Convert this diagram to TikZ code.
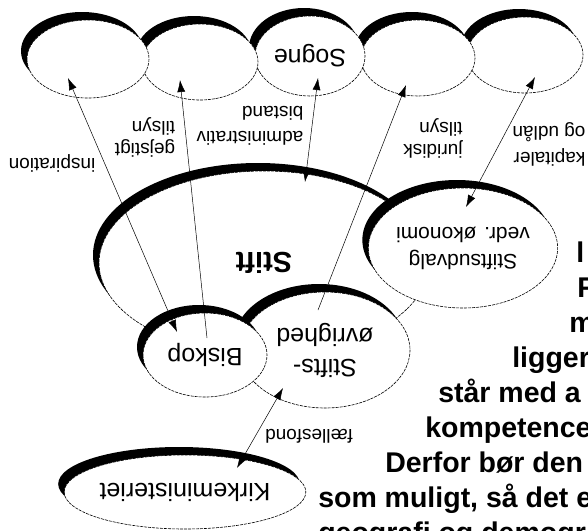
\documentclass[tikz,border=0pt]{standalone}
\usepackage{fontspec}
\setmainfont{Liberation Sans}
\usetikzlibrary{shapes.geometric,shadows,arrows.meta}

\begin{document}
\begin{tikzpicture}[x=1pt,y=-1pt,line width=0.5pt,
    >={Latex[length=12pt,width=8pt]},
    blob/.style={ellipse,draw,fill=white,inner sep=0pt,rotate=180,
      dash pattern=on 3pt off 1pt,line width=0.6pt,
      font=\fontsize{25}{31}\selectfont,align=center,
      drop shadow={shadow xshift=-6pt,shadow yshift=8pt,opacity=1,fill=black,draw=none}},
    lbl/.style={rotate=180,font=\fontsize{19}{22}\selectfont,align=left,inner sep=0pt},
    body/.style={anchor=base west,inner sep=0pt,font=\fontsize{28.5}{35}\selectfont\bfseries}]
  \useasboundingbox (0,0) rectangle (588,530);

  \node[blob,minimum width=330,minimum height=184,font=\fontsize{29}{29}\selectfont\bfseries] (stift) at (264,263) {Stift};
  \node[blob,minimum width=184,minimum height=120,font=\fontsize{21}{27}\selectfont] (udvalg) at (463,248) {Stiftsudvalg\\vedr. økonomi};
  \node[blob,minimum width=170,minimum height=116] (ovrig) at (325,350) {Stifts-\\øvrighed};
  \node[blob,minimum width=124,minimum height=84] (biskop) at (205,355) {Biskop};
  \node[blob,minimum width=206,minimum height=74] (kirke) at (185,492) {Kirkeministeriet};

  \node[blob,minimum width=116,minimum height=76] (p5) at (525,55) {};
  \node[blob,minimum width=114,minimum height=76] (p4) at (418,58) {};
  \node[blob,minimum width=110,minimum height=80] (sogne) at (310,56) {Sogne};
  \node[blob,minimum width=116,minimum height=76] (p2) at (200,62) {};
  \node[blob,minimum width=122,minimum height=78] (p1) at (88,59) {};

  \draw[<->] ([shift={(-28,-23)}]biskop.center) -- ([shift={(-20,19)}]p1.center);
  \draw[->] ([shift={(2,-17)}]biskop.center) -- ([shift={(-20,18)}]p2.center);
  \draw[<->] ([shift={(41,-81)}]stift.center) -- ([shift={(8,22)}]sogne.center);
  \draw[->] ([shift={(-7,-40)}]ovrig.center) -- ([shift={(-12,27)}]p4.center);
  \draw[<->] ([shift={(3,-41)}]udvalg.center) -- ([shift={(10,22)}]p5.center);
  \draw[<->] ([shift={(52,-24)}]kirke.center) -- ([shift={(-42,38)}]ovrig.center);

  \node[lbl] (insp) at (52,163) {inspiration};
  \node[lbl] (gejst) at (145,137) {gejstigt\\tilsyn};
  \node[lbl,font=\fontsize{19}{25}\selectfont] (adm) at (250,126) {administrativ\\bistand};
  \node[lbl] (jur) at (433,138) {juridisk\\tilsyn};
  \node[lbl,font=\fontsize{19}{26}\selectfont] (kap) at (549,144) {kapitaler\\og udlån};
  \node[lbl] (faelles) at (309,436) {fællesfond};

  \node[body] (t1) at (576,262) {l};
  \node[body] (t2) at (577,297) {F};
  \node[body] (t3) at (569,332) {m};
  \node[body] (t4) at (512,367) {ligger};
  \node[body] (t5) at (438,402) {står med a};
  \node[body] (t6) at (425,437) {kompetence};
  \node[body] (t7) at (385,472) {Derfor bør den};
  \node[body] (t8) at (318,507) {som muligt, så det e};
  \node[body] (t9) at (318,542) {geografi og demogr};
\end{tikzpicture}
\end{document}
